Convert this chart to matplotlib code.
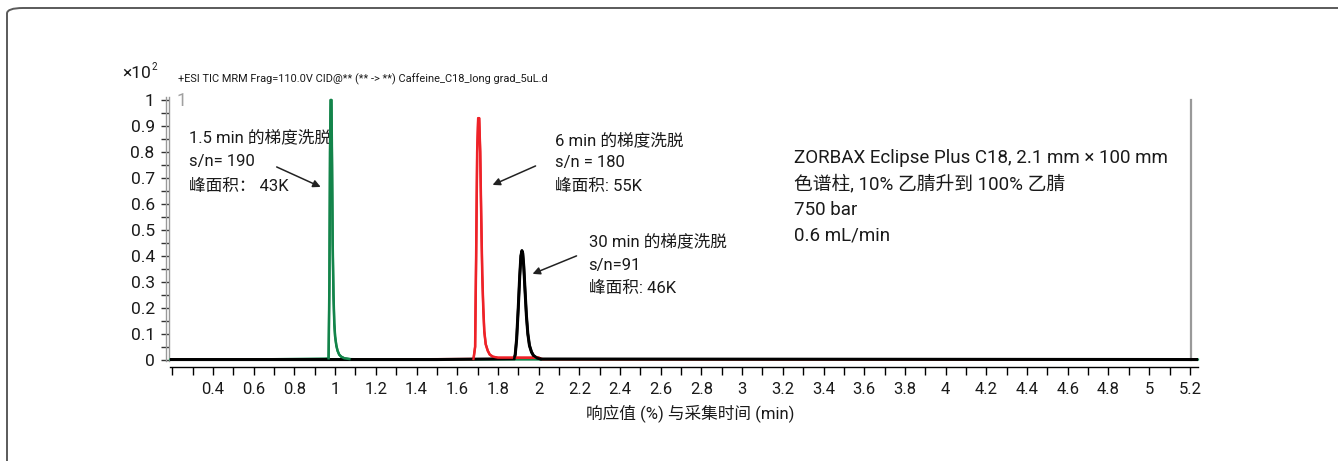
import matplotlib
matplotlib.use("Agg")
import matplotlib.pyplot as plt
from matplotlib.patches import FancyBboxPatch
from matplotlib.ticker import FixedLocator, MultipleLocator
import matplotlib.transforms as mtransforms

# ---------------- data ----------------
# 1.5 min gradient (green)
t_green = [0.19, 0.50, 0.85, 0.95, 0.968, 0.972, 0.975, 0.978, 0.982, 0.985, 0.988,
           0.992, 0.996, 1.000, 1.006, 1.012, 1.020, 1.030, 1.045, 1.070, 1.20, 5.24]
y_green = [0.001, 0.001, 0.004, 0.005, 0.006, 0.30, 0.80, 1.00, 1.00, 0.75, 0.45,
           0.25, 0.14, 0.09, 0.055, 0.035, 0.020, 0.012, 0.006, 0.003, 0.001, 0.001]

# 6 min gradient (red)
t_red = [0.19, 1.20, 1.680, 1.688, 1.693, 1.698, 1.703, 1.708, 1.713, 1.718, 1.723,
         1.728, 1.733, 1.740, 1.750, 1.760, 1.775, 1.800, 2.000, 2.020, 5.24]
y_red = [0.001, 0.001, 0.003, 0.05, 0.40, 0.80, 0.93, 0.93, 0.80, 0.55, 0.33,
         0.20, 0.11, 0.06, 0.035, 0.020, 0.012, 0.008, 0.008, 0.002, 0.001]

# 30 min gradient (black)
t_black = [0.19, 1.50, 1.880, 1.885, 1.892, 1.900, 1.907, 1.913, 1.918, 1.922, 1.927,
           1.933, 1.940, 1.947, 1.955, 1.965, 1.975, 1.990, 2.010, 5.24]
y_black = [0.001, 0.001, 0.004, 0.02, 0.08, 0.20, 0.32, 0.40, 0.42, 0.41, 0.36,
           0.27, 0.17, 0.10, 0.055, 0.030, 0.016, 0.008, 0.003, 0.001]

x_ticks = [0.4, 0.6, 0.8, 1, 1.2, 1.4, 1.6, 1.8, 2, 2.2, 2.4, 2.6, 2.8, 3,
           3.2, 3.4, 3.6, 3.8, 4, 4.2, 4.4, 4.6, 4.8, 5, 5.2]
x_tick_labels = ["0.4", "0.6", "0.8", "1", "1.2", "1.4", "1.6", "1.8", "2", "2.2",
                 "2.4", "2.6", "2.8", "3", "3.2", "3.4", "3.6", "3.8", "4", "4.2",
                 "4.4", "4.6", "4.8", "5", "5.2"]
y_ticks = [0, 0.1, 0.2, 0.3, 0.4, 0.5, 0.6, 0.7, 0.8, 0.9, 1]
y_tick_labels = ["0", "0.1", "0.2", "0.3", "0.4", "0.5", "0.6", "0.7", "0.8", "0.9", "1"]

title = "+ESI TIC MRM Frag=110.0V CID@** (** -> **) Caffeine_C18_long grad_5uL.d"
xlabel = "响应值 (%) 与采集时间 (min)"
notes = [
    ["1.5 min 的梯度洗脱", "s/n= 190", "峰面积： 43K"],
    ["6 min 的梯度洗脱", "s/n = 180", "峰面积: 55K"],
    ["30 min 的梯度洗脱", "s/n=91", "峰面积: 46K"],
]
info = ["ZORBAX Eclipse Plus C18, 2.1 mm × 100 mm",
        "色谱柱, 10% 乙腈升到 100% 乙腈",
        "750 bar",
        "0.6 mL/min"]

# ---------------- style ----------------
FAM = ["Roboto", "Noto Sans CJK SC", "DejaVu Sans"]
plt.rcParams["font.family"] = FAM

W, H = 1338, 461
fig = plt.figure(figsize=(W / 100, H / 100), dpi=100)

def fx(px):
    return px / W

def fy(py):
    return 1 - py / H

# rounded frame (open to the right/bottom)
frame = FancyBboxPatch((fx(7), fy(500)), fx(1400) - fx(7), fy(8) - fy(500),
                       boxstyle="round,pad=0,rounding_size=0.012",
                       transform=fig.transFigure, facecolor="none",
                       edgecolor="#5a5a5a", lw=1.4, clip_on=False)
fig.patches.append(frame)

ax_left, ax_right = 170, 1198
ax_top, ax_bot = 100, 367
ax = fig.add_axes([fx(ax_left), fy(ax_bot), fx(ax_right) - fx(ax_left), fy(ax_top) - fy(ax_bot)])
ax.set_xlim(0.1887, 5.240)
ax.set_ylim(-0.0277, 1.0)

GREEN, RED = "#13844a", "#ee2228"
ax.plot(t_green, y_green, color=GREEN, lw=1.6, zorder=3, clip_on=False)
ax.plot(t_red, y_red, color=RED, lw=1.8, zorder=3)
ax.plot(t_black, y_black, color="black", lw=2.2, zorder=4)
# peaks drawn on top of the shared baseline
ax.plot(t_green[4:20], y_green[4:20], color=GREEN, lw=1.8, zorder=5, clip_on=False)
ax.plot(t_red[2:19], y_red[2:19], color=RED, lw=1.6, zorder=5)
ax.plot(t_black[2:19], y_black[2:19], color="black", lw=1.8, zorder=6)

# spines
for s in ["top", "right"]:
    ax.spines[s].set_visible(False)
ax.spines["left"].set_color("#999999")
ax.spines["left"].set_linewidth(1.0)
ax.spines["left"].set_bounds(-0.006, 1.01)
ax.spines["left"].set_position(("outward", 1))
ax.spines["bottom"].set_color("black")
ax.spines["bottom"].set_linewidth(1.0)

# second line of the double y-axis
off = mtransforms.offset_copy(ax.get_yaxis_transform(), fig=fig, x=-4, y=0, units="dots")
ax.plot([0, 0], [-0.006, 1.01], color="#999999", lw=1.0, transform=off, clip_on=False)
# right gray marker line
ax.plot([5.205, 5.205], [0.0, 1.0], color="#999999", lw=1.6, zorder=2, clip_on=False)

ax.xaxis.set_major_locator(FixedLocator(x_ticks))
ax.set_xticklabels(x_tick_labels)
ax.xaxis.set_minor_locator(MultipleLocator(0.1))
ax.yaxis.set_major_locator(FixedLocator(y_ticks))
ax.set_yticklabels(y_tick_labels)
ax.yaxis.set_minor_locator(MultipleLocator(0.05))

ax.tick_params(axis="x", which="both", direction="out", length=6, width=1.0,
               color="black", labelsize=12, pad=5)
ax.tick_params(axis="y", which="both", direction="out", length=6, width=1.0,
               color="#333333", labelsize=12.5, pad=4)
for lab in ax.get_xticklabels() + ax.get_yticklabels():
    lab.set_color("#1a1a1a")

# trace number
ax.text(0.246, 0.996, "1", color="#a0a0a0", fontsize=13, ha="center", va="center")

# texts
fig.text(fx(151), fy(73), "×10", fontsize=12.5, ha="right", va="center", color="#1a1a1a")
fig.text(fx(152), fy(67), "2", fontsize=7, ha="left", va="center", color="#1a1a1a")
fig.text(fx(178), fy(79), title, fontsize=7.9, ha="left", va="center", color="#1a1a1a")
fig.text(fx(690), fy(414), xlabel, fontsize=12, ha="center", va="center", color="#1a1a1a")

def px2data(px, py):
    return 0.4 + (px - 213.3) / 203.6, (360 - py) / 260

note_pos = [(189, [137, 162, 186]), (555, [140, 163, 186]), (589, [242, 266, 289])]
for lines, (px, pys) in zip(notes, note_pos):
    for line, py in zip(lines, pys):
        ax.text(*px2data(px, py), line, fontsize=12, ha="left", va="center", color="#1a1a1a")

for line, py in zip(info, [158, 184, 210, 236]):
    ax.text(*px2data(795, py), line, fontsize=13.5, ha="left", va="center", color="#1a1a1a")

arrows = [((277, 167), (321, 187)), ((536, 166), (493, 185)), ((577, 256), (533, 274))]
for tail, head in arrows:
    ax.annotate("", xy=px2data(*head), xytext=px2data(*tail),
                arrowprops=dict(arrowstyle="-|>", color="#222222", lw=1.1,
                                mutation_scale=11, shrinkA=0, shrinkB=0))

fig.savefig("out.png", dpi=100)
